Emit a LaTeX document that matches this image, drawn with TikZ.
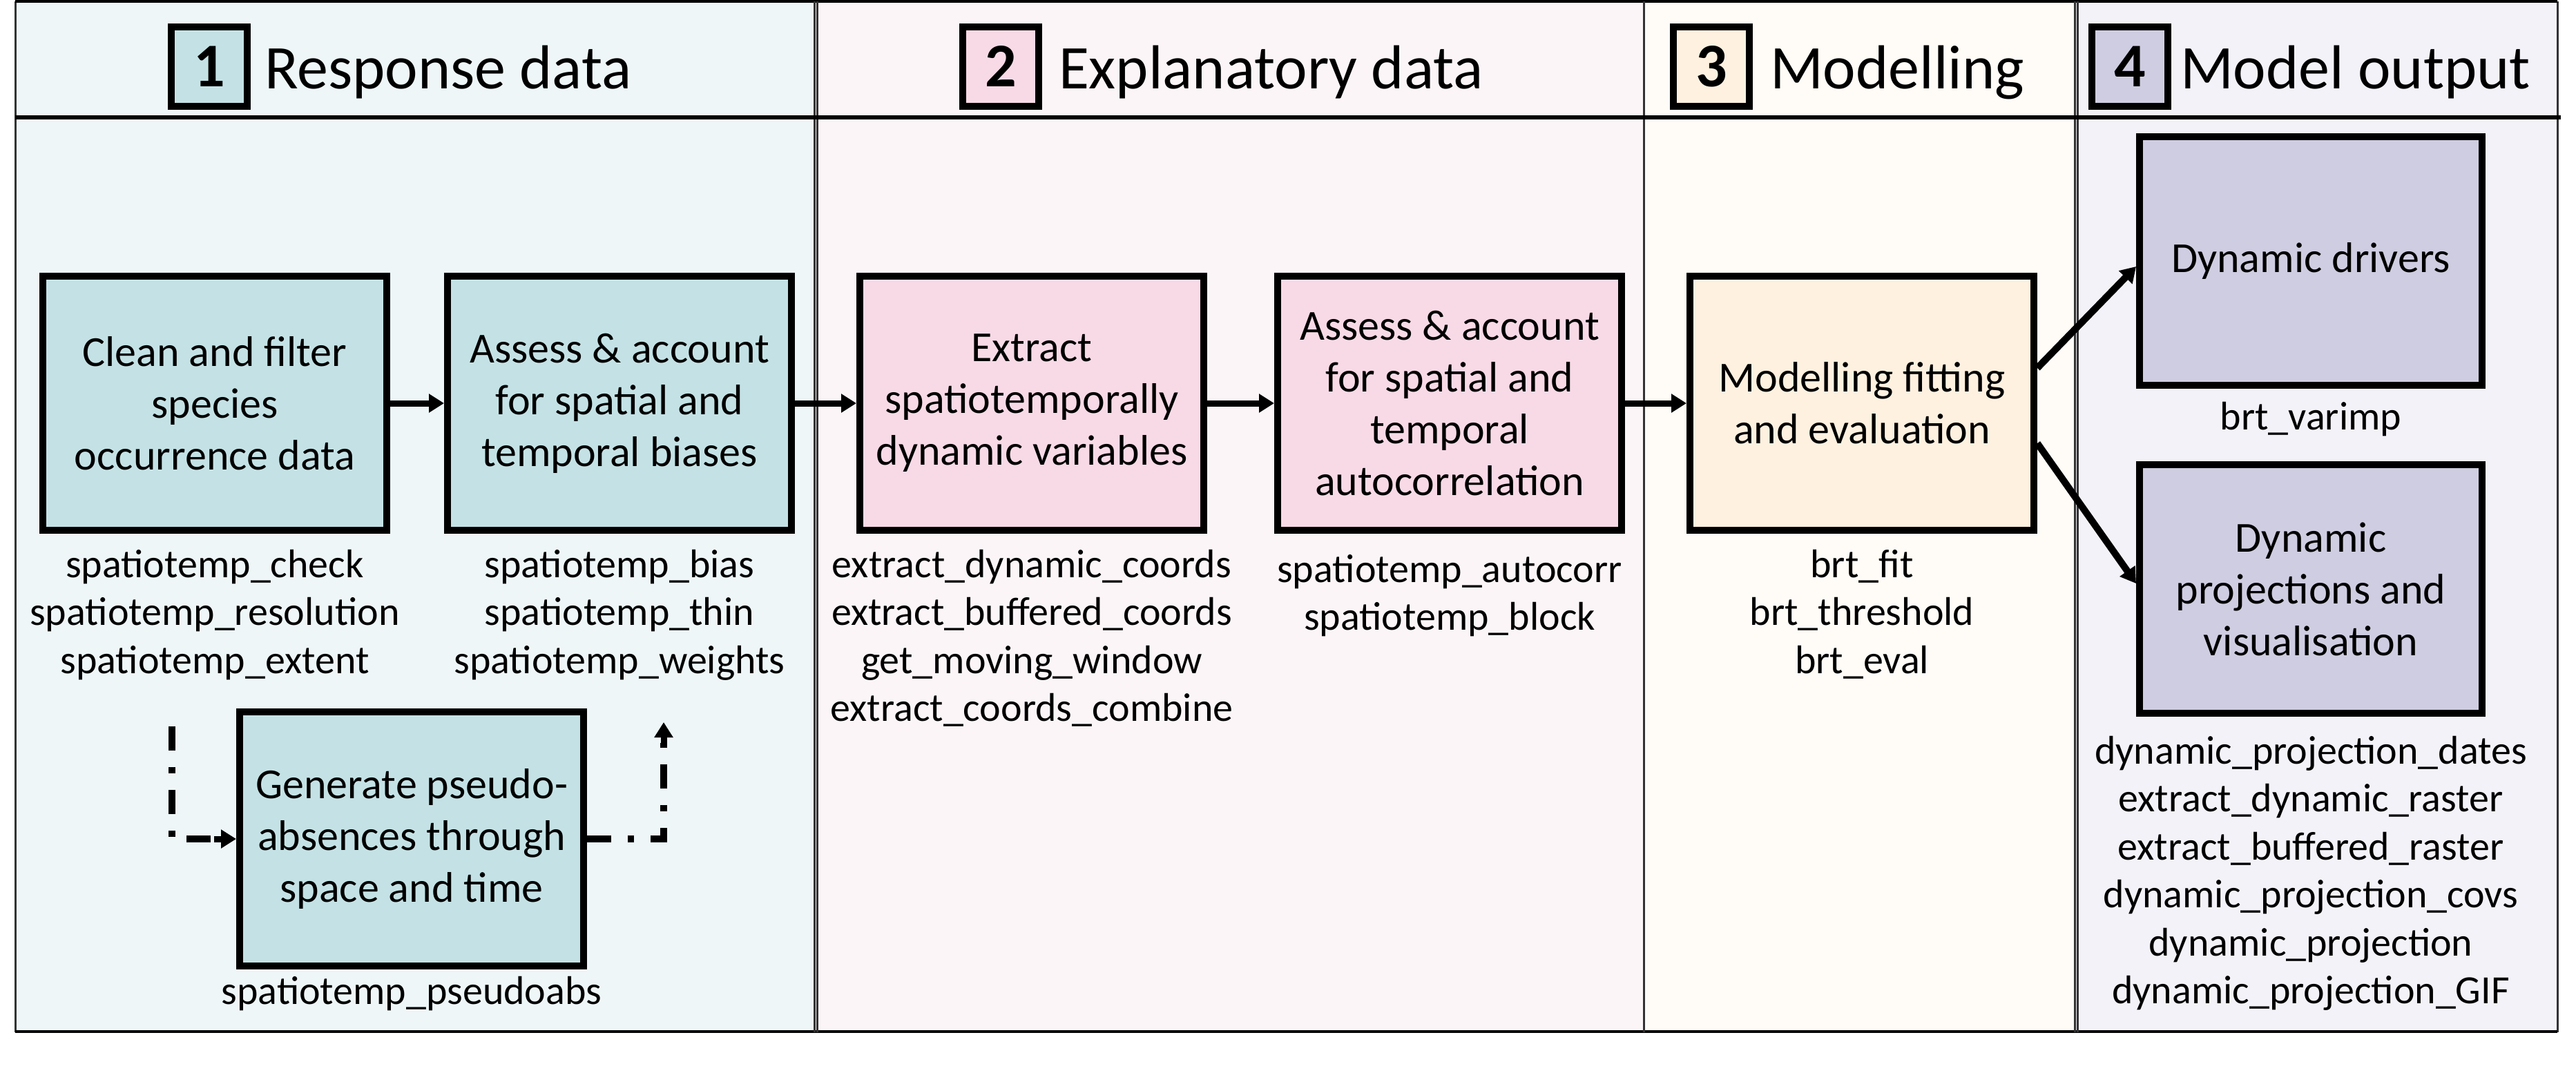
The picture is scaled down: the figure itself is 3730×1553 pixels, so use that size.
\documentclass[tikz,border=0pt]{standalone}
\usepackage{fontspec}
\setmainfont{Carlito}
\usetikzlibrary{arrows.meta,calc}
\definecolor{bgA}{HTML}{EEF6F8}
\definecolor{bgB}{HTML}{FBF5F8}
\definecolor{bgC}{HTML}{FFFCF7}
\definecolor{bgD}{HTML}{F2F2F8}
\definecolor{fillA}{HTML}{C4E2E5}
\definecolor{fillB}{HTML}{F8DAE6}
\definecolor{fillC}{HTML}{FFF1E0}
\definecolor{fillD}{HTML}{CFCDE1}
\definecolor{frameC}{HTML}{333333}
\tikzset{
  proc/.style={draw=black, line width=1pt, minimum width=49.8pt, minimum height=36.8pt,
    align=center, inner sep=0pt, font=\fontsize{6.2}{7.5}\selectfont},
  outbox/.style={proc, minimum width=49.6pt, minimum height=36pt},
  fn/.style={align=center, inner sep=0pt, font=\fontsize{5.8}{6.95}\selectfont,
    execute at begin node=\strut},
  numbox/.style={draw=black, line width=1pt, minimum width=11pt, minimum height=11.5pt,
    inner sep=0pt, font=\fontsize{9}{10.8}\selectfont\bfseries},
  headtxt/.style={inner sep=0pt, font=\fontsize{9}{10.8}\selectfont},
  arr/.style={line width=0.9pt, -{Triangle[length=2.2pt,width=2.6pt]}},
  dd/.style={line width=0.95pt, dash pattern=on 3.5pt off 2.4pt on 0.9pt off 2.4pt},
  divline/.style={line width=0.3pt, draw=frameC},
}
\begin{document}
\begin{tikzpicture}[x=0.1pt,y=-0.1pt]
\useasboundingbox (0,0) rectangle (3730,1553);
\fill[white] (0,0) rectangle (3730,1553);
% column backgrounds
\fill[bgA] (22,2) rectangle (1181,1495);
\fill[bgB] (1181,2) rectangle (2380,1495);
\fill[bgC] (2380,2) rectangle (3006,1495);
\fill[bgD] (3006,2) rectangle (3703,1495);
% frame and dividers
\draw[divline] (22,2) -- (22,1495);
\draw[divline] (3703,2) -- (3703,1495);
\draw[black, line width=0.4pt] (22,2) -- (3703,2);
\draw[black, line width=0.45pt] (22,1494) -- (3703,1494);
\draw[divline] (1179,2) -- (1179,1495);
\draw[divline] (1183,2) -- (1183,1495);
\draw[divline] (2380,2) -- (2380,1495);
\draw[divline] (3004,2) -- (3004,1495);
\draw[divline] (3008,2) -- (3008,1495);
\draw[black, line width=0.6pt] (22,170) -- (3708,170);
% headings
\node[numbox, fill=fillA] (n1) at (303,96) {1};
\node[headtxt, anchor=base west] (h1) at (381,128) {Response data};
\node[numbox, fill=fillB] (n2) at (1449,96) {2};
\node[headtxt, anchor=base west] (h2) at (1531,128) {Explanatory data};
\node[numbox, fill=fillC] (n3) at (2478,96) {3};
\node[headtxt, anchor=base west] (h3) at (2561,128) {Modelling};
\node[numbox, fill=fillD] (n4) at (3084,96) {4};
\node[headtxt, anchor=base west] (h4) at (3155,128) {Model output};
% process boxes
\node[proc, fill=fillA] (b1) at (311,584) {Clean and filter\\species\\occurrence data};
\node[proc, fill=fillA] (b2) at (897,584) {Assess \& account\\for spatial and\\temporal biases};
\node[proc, fill=fillB] (b3) at (1494,584) {Extract\\spatiotemporally\\dynamic variables};
\node[proc, fill=fillB] (b4) at (2099,584) {Assess \& account\\for spatial and\\temporal\\autocorrelation};
\node[proc, fill=fillC] (b5) at (2696,584) {Modelling fitting\\and evaluation};
\node[outbox, fill=fillD] (b6) at (3346,378) {Dynamic drivers};
\node[outbox, fill=fillD] (b7) at (3346,853) {Dynamic\\projections and\\visualisation};
\node[proc, fill=fillA] (b8) at (596,1215) {Generate pseudo-\\absences through\\space and time};
% function labels
\node[fn, anchor=north] (f1) at (311,794) {spatiotemp\_check\\spatiotemp\_resolution\\spatiotemp\_extent};
\node[fn, anchor=north] (f2) at (897,794) {spatiotemp\_bias\\spatiotemp\_thin\\spatiotemp\_weights};
\node[fn, anchor=north] (f3) at (1494,794) {extract\_dynamic\_coords\\extract\_buffered\_coords\\get\_moving\_window\\extract\_coords\_combine};
\node[fn, anchor=north] (f4) at (2099,801) {spatiotemp\_autocorr\\spatiotemp\_block};
\node[fn, anchor=north] (f5) at (2696,794) {brt\_fit\\brt\_threshold\\brt\_eval};
\node[fn, anchor=north] (f6) at (3346,572) {brt\_varimp};
\node[fn, anchor=north] (f7) at (3346,1064) {dynamic\_projection\_dates\\extract\_dynamic\_raster\\extract\_buffered\_raster\\dynamic\_projection\_covs\\dynamic\_projection\\dynamic\_projection\_GIF};
\node[fn, anchor=north] (f8) at (596,1404) {spatiotemp\_pseudoabs};
% connectors
\draw[arr] (b1) -- (b2);
\draw[arr] (b2) -- (b3);
\draw[arr] (b3) -- (b4);
\draw[arr] (b4) -- (b5);
\draw[arr, line width=1pt] ([yshift=5.1pt]b5.east) -- ([yshift=-0.8pt]b6.west);
\draw[arr, line width=1pt] ([yshift=-5.8pt]b5.east) -- ([yshift=0.8pt]b7.west);
\coordinate (pl) at (249,1052);
\coordinate (pr) at (961,1046);
\draw[dd] (pl) |- ([xshift=-3pt]b8.west);
\draw[arr] ([xshift=-3.2pt]b8.west) -- (b8.west);
\draw[dd] (b8.east) -| ([yshift=-3pt]pr);
\draw[arr] ([yshift=-3.2pt]pr) -- (pr);
\end{tikzpicture}
\end{document}
